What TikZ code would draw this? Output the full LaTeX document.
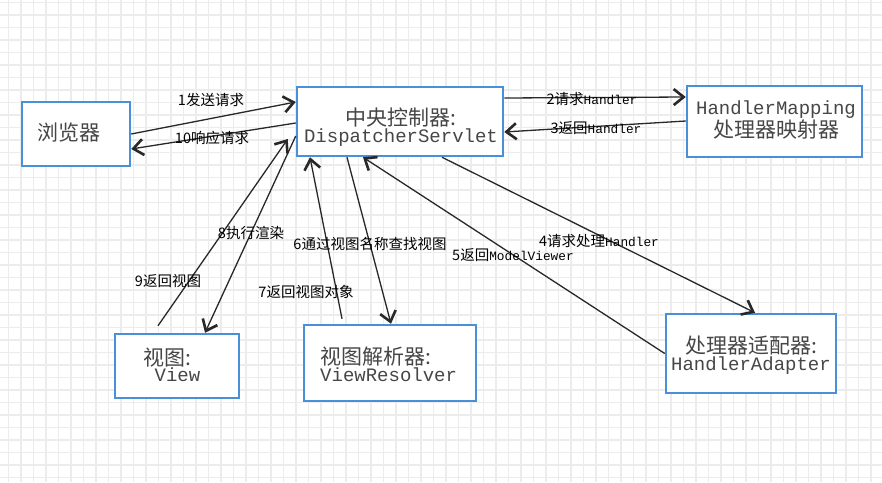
\documentclass[tikz,border=0pt]{standalone}
\usepackage{fontspec}
\setmainfont{Noto Sans CJK SC}
\setmonofont{Liberation Mono}
\usetikzlibrary{arrows.meta,calc}
\definecolor{boxblue}{RGB}{74,144,217}
\definecolor{gridc}{RGB}{236,236,236}
\definecolor{linec}{RGB}{40,40,40}
\definecolor{boxtext}{RGB}{70,70,70}
\newcommand\mylat[1]{{\ttfamily\fontsize{12.8}{13}\selectfont #1}}
\newcommand\boxcjk{\fontsize{21}{19}\selectfont}
\newcommand\boxlat{\fontsize{19}{19}\selectfont\ttfamily}
\begin{document}
\begin{tikzpicture}[x=1pt,y=-1pt,
  gridline/.style={draw=gridc,line width=1.5pt},
  box/.style={draw=boxblue,line width=2.5pt,fill=white,inner sep=0pt},
  boxtxt/.style={inner sep=0pt,text=boxtext},
  conn/.style={draw=linec,line width=1.3pt,-{Straight Barb[length=10pt,width=16pt,line width=2.6pt]}},
  lab/.style={font=\fontsize{14.5}{15}\selectfont,inner sep=0pt,text=black}]
\useasboundingbox (0,0) rectangle (882,482);
\fill[white] (0,0) rectangle (882,482);
\foreach \i in {0,...,70} \draw[gridline] ({8.3+12.5*\i},0) -- ({8.3+12.5*\i},482);
\foreach \j in {0,...,38} \draw[gridline] (0,{2.7+12.5*\j}) -- (882,{2.7+12.5*\j});

% boxes
\node[box,minimum width=108pt,minimum height=64pt] (browser) at (76,134) {};
\node[box,minimum width=206pt,minimum height=69pt] (central) at (400,121.5) {};
\node[box,minimum width=175pt,minimum height=71pt] (hm) at (774.5,121.5) {};
\node[box,minimum width=124pt,minimum height=64pt] (view) at (177,366) {};
\node[box,minimum width=172pt,minimum height=76pt] (vr) at (390,363) {};
\node[box,minimum width=170pt,minimum height=79pt] (ha) at (751,353.5) {};

% box texts
\node[boxtxt] (tbrowser) at (69,133) {\boxcjk 浏览器};
\node[boxtxt,align=center] (tcentral) at (401,127)
  {\boxcjk 中央控制器:\\\boxlat DispatcherServlet};
\node[boxtxt,align=center] (thm) at (776,120)
  {\boxlat HandlerMapping\\\boxcjk 处理器映射器};
\node[boxtxt,align=left,anchor=west] (tview) at (143,365)
  {\boxcjk 视图:\\\boxlat\ View};
\node[boxtxt,align=left,anchor=west] (tvr) at (320,364)
  {\boxcjk 视图解析器:\\\boxlat ViewResolver};
\node[boxtxt,align=center] (tha) at (751,355)
  {\boxcjk 处理器适配器:\\\boxlat HandlerAdapter};

% connectors
\draw[conn] (browser.east) -- ([yshift=19.5pt]central.west);
\draw[conn] ([yshift=-1.5pt]central.west) -- ([yshift=-15pt]browser.east);
\draw[conn] ([yshift=23.5pt]central.east) -- ([yshift=24.5pt]hm.west);
\draw[conn] ([yshift=0.5pt]hm.west) -- ([yshift=-10.5pt]central.east);
\draw[conn] ([xshift=42pt]central.south) -- ([xshift=4pt]ha.north);
\draw[conn] (ha.west) -- ([xshift=-37pt]central.south);
\draw[conn] ([xshift=-53pt]central.south) -- ([xshift=1pt]vr.north);
\draw[conn] ([xshift=-48pt,yshift=5pt]vr.north) -- ([xshift=-90pt]central.south);
\draw[conn] ([yshift=-14.5pt]central.west) -- ([xshift=28pt]view.north);
\draw[conn] ([xshift=-19pt,yshift=7pt]view.north) -- ([xshift=-8pt,yshift=-17.5pt]central.west);

% labels
\node[lab] (l1) at (211,100) {1发送请求};
\node[lab] (l10) at (212,138) {10响应请求};
\node[lab] (l2) at (592,99) {2请求\mylat{Handler}};
\node[lab] (l3) at (596,128) {3返回\mylat{Handler}};
\node[lab] (l4) at (599,241) {4请求处理\mylat{Handler}};
\node[lab] (l5) at (513,255) {5返回\mylat{ModelViewer}};
\node[lab] (l6) at (370,244) {6通过视图名称查找视图};
\node[lab] (l7) at (306,292) {7返回视图对象};
\node[lab] (l8) at (251,233) {8执行渲染};
\node[lab] (l9) at (168,281) {9返回视图};
\end{tikzpicture}
\end{document}
